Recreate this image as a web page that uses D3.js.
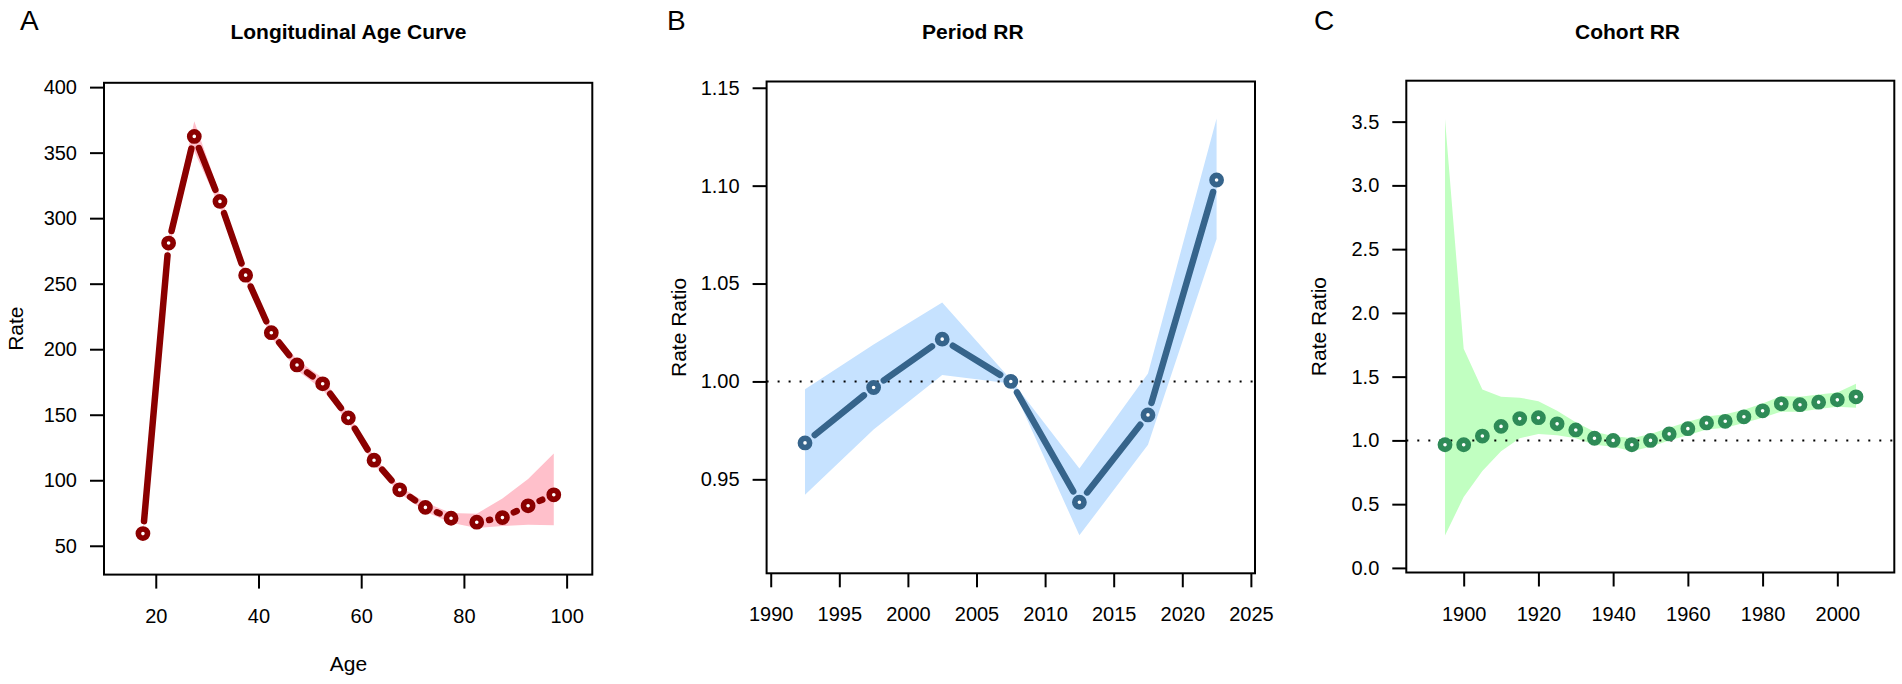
<!DOCTYPE html>
<html>
<head>
<meta charset="utf-8">
<script src="https://cdn.jsdelivr.net/npm/d3@7"></script>
<style>
  body { margin: 0; background: #fff; }
  text { font-family: "Liberation Sans", Arial, sans-serif; fill: #000; }
</style>
</head>
<body>
<svg id="chart" width="1902" height="684"></svg>
<script>
// --- data ---
const ages = [17.5, 22.5, 27.5, 32.5, 37.5, 42.5, 47.5, 52.5, 57.5, 62.5, 67.5, 72.5, 77.5, 82.5, 87.5, 92.5, 97.5]
const ageRate = [59.3, 281, 362.4, 312.8, 256.5, 212.6, 188, 173.6, 147.6, 115.3, 92.7, 79.3, 71, 68, 71.5, 80.5, 88.9]
const ageUpper = [62, 286, 374, 318, 260, 216, 192, 178, 151, 118, 95.5, 83, 75, 74.5, 86, 101, 120.5]
const ageLower = [57, 276, 351, 308, 253, 209, 184, 169, 144, 112, 90, 76, 67.5, 63.5, 65, 66, 65.6]

const periods = [1992.5, 1997.5, 2002.5, 2007.5, 2012.5, 2017.5, 2022.5]
const periodRR = [0.9686, 0.9969, 1.0216, 1.0, 0.9383, 0.9829, 1.1029]
const periodUpper = [0.996, 1.0189, 1.0403, 1.001, 0.9555, 1.004, 1.1343]
const periodLower = [0.9421, 0.9755, 1.0033, 0.999, 0.9214, 0.9677, 1.0728]

const cohorts = [1895, 1900, 1905, 1910, 1915, 1920, 1925, 1930, 1935, 1940, 1945, 1950,
  1955, 1960, 1965, 1970, 1975, 1980, 1985, 1990, 1995, 2000, 2005]
const cohortRR = [0.966, 0.966, 1.034, 1.11, 1.171, 1.178, 1.13, 1.082, 1.017, 1.0, 0.966, 1.0,
  1.051, 1.092, 1.137, 1.15, 1.185, 1.232, 1.287, 1.28, 1.3, 1.318, 1.342]
const cohortUpper = [3.52, 1.718, 1.4, 1.342, 1.335, 1.308, 1.232, 1.143, 1.068, 1.034, 1.017, 1.05,
  1.1, 1.147, 1.188, 1.205, 1.24, 1.29, 1.348, 1.342, 1.36, 1.376, 1.444]
const cohortLower = [0.255, 0.556, 0.761, 0.915, 1.017, 1.051, 1.04, 1.017, 0.966, 0.95, 0.915, 0.95,
  1.0, 1.04, 1.085, 1.1, 1.137, 1.178, 1.225, 1.225, 1.246, 1.263, 1.256]

const ageTicks = [20, 40, 60, 80, 100]
const rateTicks = [50, 100, 150, 200, 250, 300, 350, 400]
const periodTicks = [1990, 1995, 2000, 2005, 2010, 2015, 2020, 2025]
const periodRRTicks = [0.95, 1.0, 1.05, 1.1, 1.15]
const cohortTicks = [1900, 1920, 1940, 1960, 1980, 2000]
const cohortRRTicks = [0, 0.5, 1.0, 1.5, 2.0, 2.5, 3.0, 3.5]

const panels = [
  {
    letter: "A", letterX: 20, title: "Longitudinal Age Curve", titleX: 348.5,
    ylab: "Rate", ylabX: 23, xlab: "Age", xlabX: 348.5,
    left: 104, right: 592.3, top: 82.8, bottom: 574.6,
    xDomain: [9.92, 105.0], yDomain: [28.0, 403.3],
    xs: ages, ys: ageRate, upper: ageUpper, lower: ageLower,
    xTicks: ageTicks, yTicks: rateTicks, yFmt: d3.format("d"),
    color: "#8B0000", band: "#FFC0CB", joined: true, refLine: null
  },
  {
    letter: "B", letterX: 667, title: "Period RR", titleX: 972.8,
    ylab: "Rate Ratio", ylabX: 686, xlab: null,
    left: 766.6, right: 1255, top: 81.5, bottom: 573.3,
    xDomain: [1989.7, 2025.3], yDomain: [0.902, 1.1532],
    xs: periods, ys: periodRR, upper: periodUpper, lower: periodLower,
    xTicks: periodTicks, yTicks: periodRRTicks, yFmt: d3.format(".2f"),
    color: "#36648B", band: "#C6E2FF", joined: true, refLine: 1
  },
  {
    letter: "C", letterX: 1314, title: "Cohort RR", titleX: 1627.5,
    ylab: "Rate Ratio", ylabX: 1326, xlab: null,
    left: 1406.3, right: 1894.3, top: 80.7, bottom: 572.5,
    xDomain: [1884.64, 2015.25], yDomain: [-0.036, 3.821],
    xs: cohorts, ys: cohortRR, upper: cohortUpper, lower: cohortLower,
    xTicks: cohortTicks, yTicks: cohortRRTicks, yFmt: d3.format(".1f"),
    color: "#2E8B57", band: "#C1FFC1", joined: false, refLine: 1
  }
]

const svg = d3.select("#chart")
const GAP = 12.5

panels.forEach((p, pi) => {
  const x = d3.scaleLinear().domain(p.xDomain).range([p.left, p.right])
  const y = d3.scaleLinear().domain(p.yDomain).range([p.bottom, p.top])
  const g = svg.append("g").attr("class", `panel-${p.letter}`)

  g.append("clipPath").attr("id", `clip${pi}`)
    .append("rect")
    .attr("x", p.left).attr("y", p.top)
    .attr("width", p.right - p.left).attr("height", p.bottom - p.top)

  const plot = g.append("g").attr("clip-path", `url(#clip${pi})`)

  const area = d3.area()
    .x((d, i) => x(p.xs[i]))
    .y0((d, i) => y(p.lower[i]))
    .y1((d, i) => y(p.upper[i]))
  plot.append("path")
    .datum(p.xs)
    .attr("d", area)
    .attr("fill", p.band)

  if (p.refLine !== null) {
    plot.append("line")
      .attr("x1", p.left).attr("x2", p.right)
      .attr("y1", y(p.refLine)).attr("y2", y(p.refLine))
      .attr("stroke", "#000")
      .attr("stroke-width", 2)
      .attr("stroke-dasharray", "2 9")
  }

  if (p.joined) {
    // type = "b": segments stop short of the points
    const pts = p.xs.map((v, i) => [x(v), y(p.ys[i])])
    const segs = d3.pairs(pts).map(([a, b]) => {
      const dx = b[0] - a[0], dy = b[1] - a[1]
      const len = Math.hypot(dx, dy)
      const ux = dx / len, uy = dy / len
      return { len, x1: a[0] + ux * GAP, y1: a[1] + uy * GAP, x2: b[0] - ux * GAP, y2: b[1] - uy * GAP }
    }).filter(s => s.len > 2 * GAP + 1)
    plot.selectAll("line.seg")
      .data(segs)
      .enter()
      .append("line")
      .attr("class", "seg")
      .attr("x1", d => d.x1).attr("y1", d => d.y1)
      .attr("x2", d => d.x2).attr("y2", d => d.y2)
      .attr("stroke", p.color)
      .attr("stroke-width", 6.5)
      .attr("stroke-linecap", "round")
  }

  plot.selectAll("circle.pt")
    .data(p.xs)
    .enter()
    .append("circle")
    .attr("class", "pt")
    .attr("cx", d => x(d))
    .attr("cy", (d, i) => y(p.ys[i]))
    .attr("r", 4.6)
    .attr("fill", "#fff")
    .attr("stroke", p.color)
    .attr("stroke-width", 5.6)

  g.append("rect")
    .attr("x", p.left).attr("y", p.top)
    .attr("width", p.right - p.left).attr("height", p.bottom - p.top)
    .attr("fill", "none")
    .attr("stroke", "#000")
    .attr("stroke-width", 2)

  const xAxis = g.append("g")
    .attr("transform", `translate(0,${p.bottom})`)
    .call(d3.axisBottom(x).tickValues(p.xTicks).tickSize(14).tickPadding(20).tickFormat(d3.format("d")))
  const yAxis = g.append("g")
    .attr("transform", `translate(${p.left},0)`)
    .call(d3.axisLeft(y).tickValues(p.yTicks).tickSize(14).tickPadding(13).tickFormat(p.yFmt))

  ;[xAxis, yAxis].forEach(ax => {
    ax.select(".domain").remove()
    ax.attr("font-size", null).attr("font-family", null)
    ax.selectAll(".tick line").attr("stroke", "#000").attr("stroke-width", 2)
    ax.selectAll(".tick text").style("font-size", "20px").attr("fill", "#000")
  })

  g.append("text")
    .attr("x", p.letterX).attr("y", 30)
    .style("font-size", "28px")
    .text(p.letter)

  g.append("text")
    .attr("x", p.titleX).attr("y", 39)
    .attr("text-anchor", "middle")
    .style("font-size", "21px")
    .style("font-weight", "bold")
    .text(p.title)

  g.append("text")
    .attr("transform", `translate(${p.ylabX},${(p.top + p.bottom) / 2}) rotate(-90)`)
    .attr("text-anchor", "middle")
    .style("font-size", "21px")
    .text(p.ylab)

  if (p.xlab) {
    g.append("text")
      .attr("x", p.xlabX).attr("y", 671)
      .attr("text-anchor", "middle")
      .style("font-size", "21px")
      .text(p.xlab)
  }
})
</script>
</body>
</html>
